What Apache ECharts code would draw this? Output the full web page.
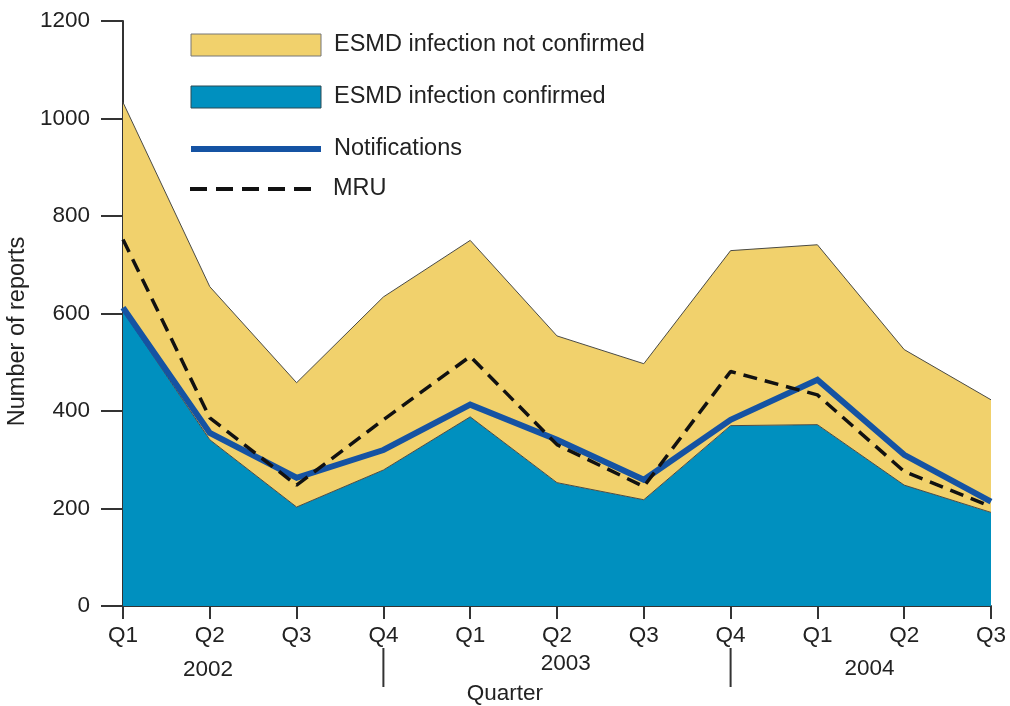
<!DOCTYPE html>
<html>
<head>
<meta charset="utf-8">
<title>ESMD reports by quarter</title>
<script src="https://cdn.jsdelivr.net/npm/echarts@6/dist/echarts.min.js"></script>
<style>
  html, body { margin: 0; padding: 0; background: #fff; }
  #chart { width: 1010px; height: 706px; }
</style>
</head>
<body>
<div id="chart"></div>
<script>
// quarters 2002 Q1 .. 2004 Q3
const quarters = ['Q1', 'Q2', 'Q3', 'Q4', 'Q1', 'Q2', 'Q3', 'Q4', 'Q1', 'Q2', 'Q3'];
const years = ['2002', '2003', '2004'];
const confirmed = [605, 341, 203, 279, 388, 253, 218, 370, 372, 248, 192];
const notConfirmed = [428, 314, 255, 355, 362, 301, 279, 359, 369, 278, 231];
const notifications = [612, 355, 263, 320, 413, 341, 259, 382, 464, 310, 214];
const mru = [752, 386, 248, 382, 512, 331, 245, 481, 433, 276, 204];
const yTicks = [0, 200, 400, 600, 800, 1000, 1200];

const C = {
  yellow: '#f1d16c', teal: '#0090bf', navy: '#1553a3', ink: '#222', edge: '#4a4a44', axis: '#333',
};
const FONT = '"Liberation Sans", Arial, sans-serif';

const chart = echarts.init(document.getElementById('chart'));

const legendBase = {
  orient: 'vertical', left: 188, itemWidth: 130, itemHeight: 22, itemGap: 28, padding: 0,
  textStyle: { fontFamily: FONT, fontSize: 23.5, color: C.ink, padding: [0, 0, 0, 8] },
  selectedMode: false,
};
const noDot = { opacity: 0 };

chart.setOption({
  animation: false,
  grid: { left: 123, right: 19, top: 21, bottom: 100, outerBoundsMode: 'none', containLabel: false },
  legend: [
    Object.assign({}, legendBase, {
      top: 33,
      data: [
        { name: 'ESMD infection not confirmed', icon: 'rect', itemStyle: { color: C.yellow, borderColor: '#777', borderWidth: 1 } },
        { name: 'ESMD infection confirmed', icon: 'rect', itemStyle: { color: C.teal, borderColor: '#2a4a55', borderWidth: 1 } },
        { name: 'Notifications', itemStyle: noDot, lineStyle: { color: C.navy, width: 6 } },
      ],
    }),
    Object.assign({}, legendBase, {
      top: 177,
      data: [{ name: 'MRU', itemStyle: noDot, lineStyle: { color: '#111', width: 4, type: [17, 9] } }],
    }),
  ],
  xAxis: {
    type: 'category', data: quarters, boundaryGap: false,
    axisLine: { lineStyle: { color: C.axis, width: 2 } },
    axisTick: { length: 13, lineStyle: { color: C.axis, width: 2 }, alignWithLabel: true },
    axisLabel: { fontFamily: FONT, fontSize: 22.5, color: C.ink, margin: 18, interval: 0 },
    splitLine: { show: false },
  },
  yAxis: {
    type: 'value', min: yTicks[0], max: yTicks[yTicks.length - 1], interval: 200,
    name: 'Number of reports', nameLocation: 'middle', nameGap: 80, nameRotate: 90,
    nameTextStyle: { fontFamily: FONT, fontSize: 23.5, color: C.ink, padding: [0, 36, 0, 0] },
    axisLine: { show: true, onZero: false, lineStyle: { color: C.axis, width: 2 } },
    axisTick: { show: true, inside: false, length: 22, lineStyle: { color: C.axis, width: 2 } },
    axisLabel: { fontFamily: FONT, fontSize: 22.5, color: C.ink, margin: 33, formatter: (v) => String(v) },
    splitLine: { show: false },
  },
  series: [
    {
      name: 'ESMD infection confirmed', type: 'line', stack: 'esmd', data: confirmed,
      symbol: 'none', z: 1,
      lineStyle: { color: C.edge, width: 1 },
      itemStyle: { color: C.teal },
      areaStyle: { color: C.teal, opacity: 1 },
    },
    {
      name: 'ESMD infection not confirmed', type: 'line', stack: 'esmd', data: notConfirmed,
      symbol: 'none', z: 1,
      lineStyle: { color: C.edge, width: 1 },
      itemStyle: { color: C.yellow },
      areaStyle: { color: C.yellow, opacity: 1 },
    },
    {
      name: 'Notifications', type: 'line', data: notifications, symbol: 'none', z: 3,
      itemStyle: { color: C.navy },
      lineStyle: { color: C.navy, width: 6, join: 'miter' },
    },
    {
      name: 'MRU', type: 'line', data: mru, symbol: 'none', z: 4,
      itemStyle: { color: '#111' },
      lineStyle: { color: '#111', width: 3.5, type: [14, 8] },
    },
  ],
});

// year labels and separators under the quarter labels
const px = (i) => {
  const a = chart.convertToPixel({ xAxisIndex: 0 }, Math.floor(i));
  const b = chart.convertToPixel({ xAxisIndex: 0 }, Math.ceil(i));
  return a + (b - a) * (i - Math.floor(i));
};
const yearPos = [0.98, 5.1, 8.6];
const yearTop = [658, 652, 657];
const text = (x, y, s) => ({
  type: 'text', x: x, y: y,
  style: { text: s, fontFamily: FONT, fontSize: 22.5, fill: C.ink, align: 'center', verticalAlign: 'top' },
});
const sep = (x) => ({ type: 'line', shape: { x1: x, y1: 648, x2: x, y2: 687 }, style: { stroke: C.axis, lineWidth: 2 } });
chart.setOption({
  graphic: [
    ...years.map((y, i) => text(px(yearPos[i]), yearTop[i], y)),
    sep(px(3)), sep(px(7)),
    text(px(4.4), 682, 'Quarter'),
  ],
});
</script>
</body>
</html>
